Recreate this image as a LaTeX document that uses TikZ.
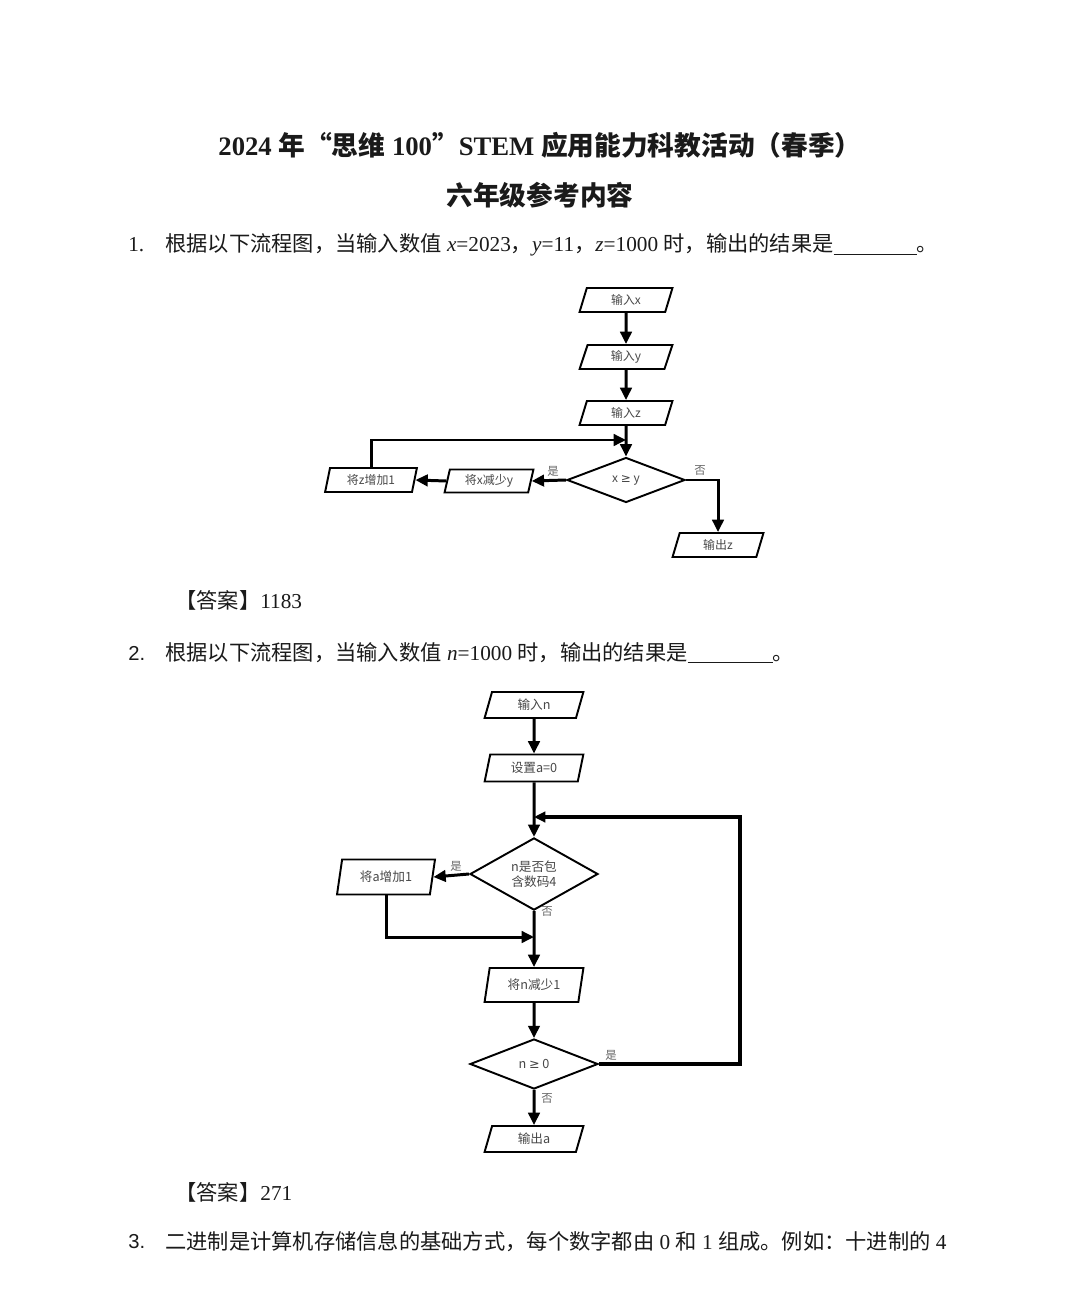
\documentclass[tikz,border=0pt]{standalone}
\usepackage{fontspec}
\setmainfont{Liberation Serif}
\newfontfamily\cjk{Noto Sans CJK SC}
\newfontfamily\sansnum{Liberation Sans}
\newfontfamily\symf{DejaVu Sans}
\usetikzlibrary{shapes.geometric,arrows.meta,calc}
\definecolor{ink}{HTML}{1A1A1A}
\definecolor{chartink}{HTML}{484848}
\begin{document}
\begin{tikzpicture}[x=0.02cm,y=-0.02cm,
  io/.style={trapezium, trapezium left angle=78, trapezium right angle=102, trapezium stretches=true, draw=black, line width=1.1pt, inner sep=1pt, text=chartink},
  fa/.style={font=\cjk\fontsize{6.8}{7.8}\selectfont},
  fb/.style={font=\cjk\fontsize{7.2}{8.4}\selectfont},
  dec/.style={diamond, draw=black, line width=1.1pt, inner sep=0pt, text=chartink, align=center},
  conn/.style={line width=1.7pt, -{Triangle[length=7pt,width=6.5pt]}},
  loopconn/.style={line width=2.4pt, -{Triangle[length=6.5pt,width=6pt]}},
  lbl/.style={font=\cjk\fontsize{6.5}{7.5}\selectfont, text=black!60, inner sep=0pt},
  body/.style={anchor=west, font=\fontsize{12.1}{14}\selectfont, inner sep=0pt, text=ink},
  ttl/.style={font=\bfseries\fontsize{15.2}{17}\selectfont, inner sep=0pt, text=ink},
]
\useasboundingbox[fill=white] (0,0) rectangle (1080,1314);

% ---------- header ----------
\node[ttl] (t1) at (540,145) {2024 {\cjk\bfseries 年“思维} 100{\cjk\bfseries ”}STEM {\cjk\bfseries 应用能力科教活动（春季）}};
\node[ttl] (t2) at (540,195) {\cjk\bfseries 六年级参考内容};

% ---------- question 1 ----------
\node[body] (q1n) at (128,245) {1.};
\node[body] (q1) at (165,245) {{\cjk 根据以下流程图，当输入数值} \textit{x}=2023{\cjk ，}\textit{y}=11{\cjk ，}\textit{z}=1000 {\cjk 时，输出的结果是}\underline{\hspace{1.66cm}}{\cjk 。}};

\node[io, fa, minimum width=1.86cm, minimum height=0.48cm] (ix) at (626,300) {输入x};
\node[io, fa, minimum width=1.86cm, minimum height=0.48cm] (iy) at (626,357) {输入y};
\node[io, fa, minimum width=1.86cm, minimum height=0.48cm] (iz) at (626,413) {输入z};
\node[dec, fa, minimum width=2.36cm, minimum height=0.9cm] (c1) at (626,480) {x {\symf ≥} y};
\node[io, fa, minimum width=1.78cm, minimum height=0.46cm] (dx) at (489,481) {将x减少y};
\node[io, fa, minimum width=1.84cm, minimum height=0.48cm] (zz) at (371,480) {将z增加1};
\node[io, fa, minimum width=1.82cm, minimum height=0.48cm] (oz) at (718,545) {输出z};
\coordinate (j1) at (626,440);

\draw[conn] (ix.south) -- (iy.north);
\draw[conn] (iy.south) -- (iz.north);
\draw[conn] (iz.south) -- (c1.north);
\draw[conn] (c1.west) -- (dx.east);
\draw[conn] (dx.west) -- (zz.east);
\draw[conn] (zz.north) |- (j1);
\draw[conn] (c1.east) -| (oz.north);
\node[lbl] (l1y) at (553,471) {是};
\node[lbl] (l1n) at (700,470) {否};

\node[body] (a1) at (175,600) {{\cjk 【答案】}1183};

% ---------- question 2 ----------
\node[body] (q2n) at (128,653) {\sansnum\fontsize{11.5}{14}\selectfont 2.};
\node[body] (q2) at (165,653) {{\cjk 根据以下流程图，当输入数值} \textit{n}=1000 {\cjk 时，输出的结果是}\underline{\hspace{1.7cm}}{\cjk 。}};

\node[io, fb, minimum width=1.98cm, minimum height=0.52cm] (in) at (534,705) {输入n};
\node[io, fb, minimum width=1.98cm, minimum height=0.54cm] (sa) at (534,768) {设置a=0};
\node[dec, fb, minimum width=2.56cm, minimum height=1.0cm] (c2) at (534,874) {n是否包\\含数码4};
\node[io, fb, minimum width=1.96cm, minimum height=0.7cm] (ia) at (386,877) {将a增加1};
\node[io, fb, minimum width=1.98cm, minimum height=0.68cm] (dn) at (534,985) {将n减少1};
\node[dec, fb, minimum width=2.56cm, minimum height=1.0cm] (c3) at (534,1064) {n {\symf ≥} 0};
\node[io, fb, minimum width=1.98cm, minimum height=0.52cm] (oa) at (534,1139) {输出a};
\coordinate (j2) at (534,817);
\coordinate (r2) at (740,817);
\coordinate (j3) at (534,937);

\draw[conn] (in.south) -- (sa.north);
\draw[conn] (sa.south) -- (c2.north);
\draw[conn] (c2.west) -- (ia.east);
\draw[conn] (ia.south) |- (j3);
\draw[conn] (c2.south) -- (dn.north);
\draw[conn] (dn.south) -- (c3.north);
\draw[conn] (c3.south) -- (oa.north);
\draw[loopconn] (c3.east) -| (r2) -- (j2);
\node[lbl] (l2y) at (456,866) {是};
\node[lbl] (l2n) at (547,911) {否};
\node[lbl] (l3y) at (611,1055) {是};
\node[lbl] (l3n) at (547,1098) {否};

\node[body] (a2) at (175,1192) {{\cjk 【答案】}271};

% ---------- question 3 ----------
\node[body] (q3n) at (128,1242) {\sansnum\fontsize{11.5}{14}\selectfont 3.};
\node[body] (q3) at (165,1242) {{\cjk 二进制是计算机存储信息的基础方式，每个数字都由} 0 {\cjk 和} 1 {\cjk 组成。例如：十进制的} 4};
\end{tikzpicture}
\end{document}
